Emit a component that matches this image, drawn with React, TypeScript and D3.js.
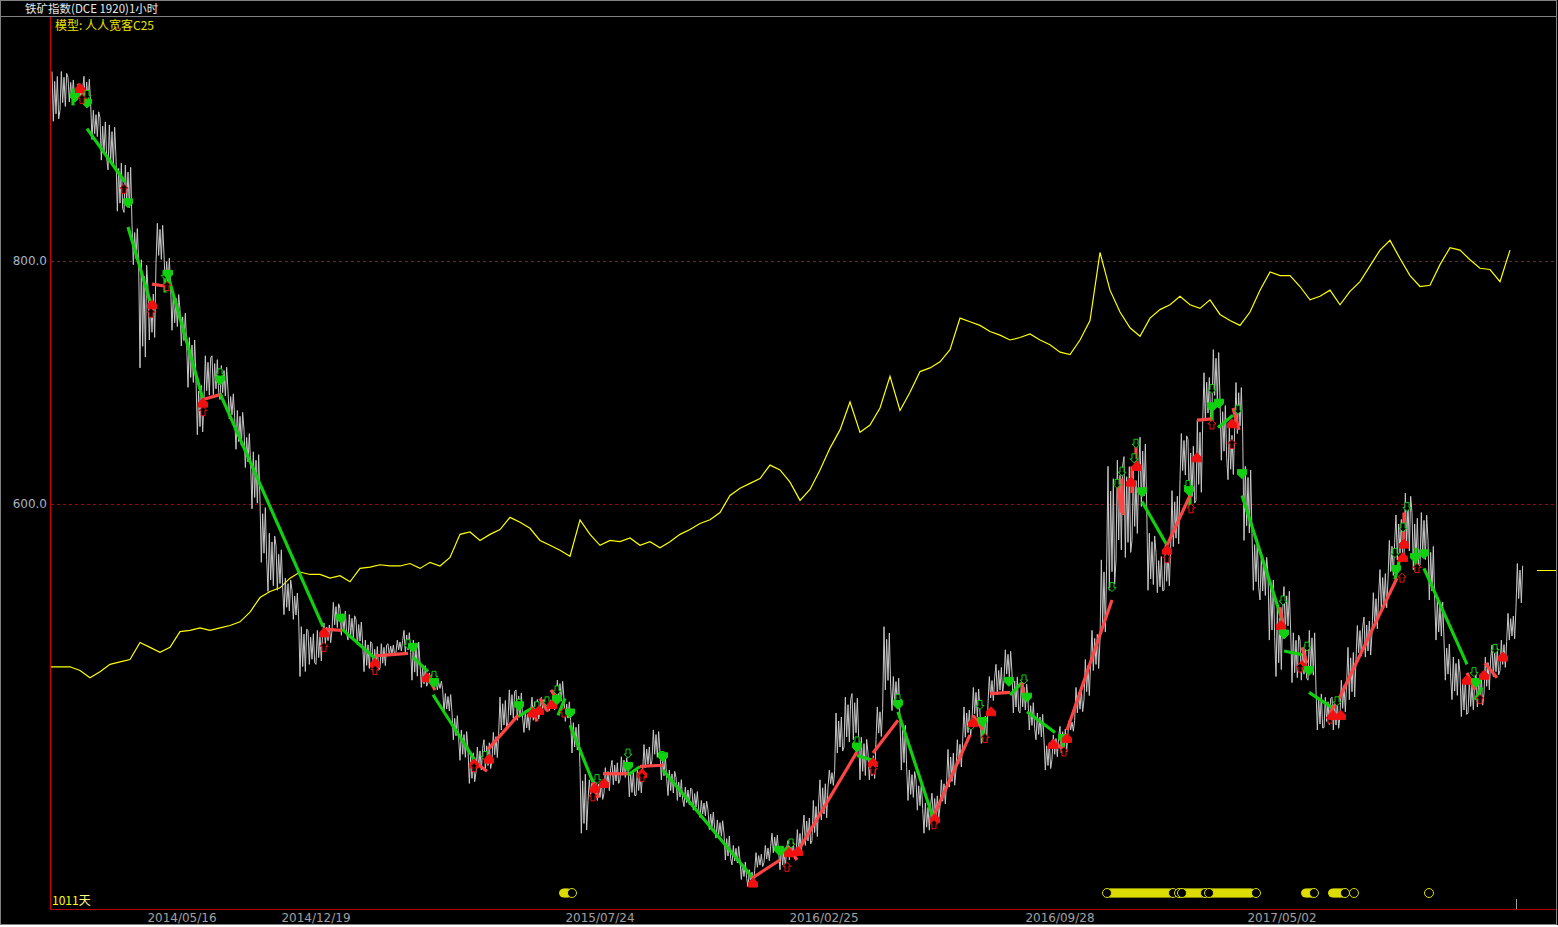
import React from 'react';
import * as d3 from 'd3';

const W = 1558;
const H = 925;

// ---- price series (hourly bars sampled every 8 bars): highs and lows ----
const PRICE_STEP = 8;
const priceHigh = [956,956,951,942,952,924,918,912,885,879,830,801,777,831,805,774,760,737,702,722,
  722,714,693,677,661,643,602,576,566,539,529,499,496,496,502,519,514,509,505,488,
  485,485,485,488,496,488,469,461,455,444,428,414,398,400,406,412,441,447,447,430,
  441,441,441,455,439,420,383,373,373,383,389,392,383,381,402,414,395,381,375,367,
  365,356,348,340,329,319,307,299,313,319,329,318,323,332,344,356,373,381,428,441,
  444,408,395,433,499,458,422,381,373,354,362,373,398,406,433,449,428,458,468,480,
  461,453,439,428,406,410,417,422,449,472,496,554,631,636,639,628,655,576,560,566,
  611,658,653,669,708,727,686,663,700,631,576,558,543,515,532,494,488,496,447,441,
  441,455,482,500,507,527,546,570,591,609,593,593,570,521,488,474,461,455,461,474,
  484,488,510,551];
const priceLow = [915,924,931,932,928,900,883,875,841,840,797,712,735,798,777,743,730,696,657,686,
  690,686,670,645,630,596,552,528,529,509,505,458,468,468,485,496,492,488,484,462,
  462,465,475,478,477,455,449,453,447,428,406,389,370,379,381,389,414,421,422,412,
  422,429,430,436,421,395,329,356,356,362,369,373,359,360,383,389,373,360,356,351,
  348,342,332,325,307,303,291,285,301,305,313,299,307,311,319,323,340,367,395,400,
  406,373,373,406,447,430,381,356,348,329,340,351,367,381,408,422,403,436,443,455,
  428,428,414,406,381,390,395,412,428,439,463,488,529,554,556,570,598,529,527,529,
  565,620,598,603,669,680,636,620,658,570,529,521,488,458,494,453,455,455,414,416,
  414,426,439,472,474,494,513,538,554,556,546,550,521,488,455,439,425,428,433,444,
  458,463,488,515];
const lastClose = 546;

// ---- model equity curve (sampled every 10 bars), drawn on the price axis ----
const EQ_STEP = 10;
const equity = [466,466,466,463,457,462,468,470,472,486,482,478,482,495,496,498,496,498,500,503,
  511,523,528,531,539,544,542,542,539,541,536,547,548,550,549,549,551,547,552,549,
  556,575,577,570,575,579,589,585,580,570,566,562,557,587,575,566,570,569,572,566,
  569,564,569,575,579,584,587,593,607,613,617,621,632,628,618,603,612,628,646,661,
  684,659,665,679,705,677,692,709,712,717,727,753,750,747,742,739,735,737,740,735,
  731,725,723,735,751,807,776,758,745,738,753,760,764,771,764,761,768,756,751,747,
  758,776,791,788,788,779,768,771,776,764,775,783,796,809,817,802,788,779,780,797,
  811,809,801,794,793,783,809];

// ---- axes ----
const yTicks = [600, 800];
const tickBars = [132, 266, 550, 774, 1010, 1232];
const tickLabels = ['2014/05/16', '2014/12/19', '2015/07/24', '2016/02/25', '2016/09/28', '2017/05/02'];
const lastBar = 1466;

// ---- trades: [entryBar, entryPrice, exitBar, exitPrice] ----
const shortTrades = [
  [23,942,23,928],[37,909,75,865],[78,828,100,767],[115,791,115,774],[118,788,153,686],
  [170,691,273,499],[292,497,325,473],[363,474,378,462],[383,443,425,389],[468,425,482,432],
  [508,426,515,440],[520,418,543,371],[578,377,590,384],[613,381,702,293],[730,311,738,318],
  [807,393,823,389],[848,429,883,342],[933,422,933,404],[960,443,972,453],[977,429,1005,412],
  [1013,410,1013,395],[1092,602,1117,566],[1140,614,1140,598],[1162,680,1162,663],[1168,663,1183,673],
  [1192,607,1232,505],[1234,479,1252,476],[1259,445,1283,432],[1345,538,1350,556],[1366,564,1366,544],
  [1374,547,1417,468],[1425,439,1432,449]];
const longTrades = [
  [28,946,35,933],[102,781,118,779],[153,686,170,690],[273,497,292,496],[325,475,358,477],
  [377,459,385,447],[423,389,437,380],[438,398,468,426],[482,433,487,421],[490,440,498,429],
  [501,447,507,439],[543,371,548,358],[553,378,578,378],[590,384,613,385],[702,292,730,307],
  [738,318,747,307],[747,313,807,396],[823,395,848,422],[883,342,920,410],[923,426,933,414],
  [940,444,960,445],[972,453,974,441],[1002,406,1013,398],[1017,414,1062,521],[1068,620,1071,593],
  [1072,621,1073,591],[1082,631,1082,609],[1086,650,1086,631],[1117,566,1140,607],[1147,669,1162,670],
  [1183,679,1189,661],[1230,515,1233,502],[1252,482,1257,469],[1280,428,1291,443],[1291,443,1347,539],
  [1354,593,1354,570],[1417,461,1425,447],[1435,469,1447,457]];

// ---- signal markers: [bar, price, kind] gd=short entry, go=short signal, rf=long entry, ro=long signal ----
const markers = [
  [25,935,'gd'],[37,930,'gd'],[30,942,'rf'],[37,937,'go'],[32,933,'ro'],[74,859,'ro'],[78,848,'gd'],
  [102,764,'rf'],[101,757,'ro'],[115,789,'go'],[118,789,'gd'],[117,779,'ro'],[153,683,'rf'],[153,676,'ro'],
  [170,708,'go'],[170,702,'gd'],[274,494,'rf'],[274,482,'ro'],[291,506,'gd'],[325,469,'rf'],[325,463,'ro'],
  [358,485,'go'],[363,482,'gd'],[377,457,'rf'],[384,459,'go'],[384,453,'gd'],[424,386,'rf'],[424,383,'ro'],
  [435,393,'go'],[439,390,'rf'],[469,436,'go'],[469,434,'gd'],[483,428,'rf'],[487,434,'go'],[489,430,'rf'],
  [497,438,'go'],[502,435,'rf'],[507,447,'go'],[507,439,'gd'],[514,428,'ro'],[520,428,'gd'],[547,374,'go'],
  [545,366,'rf'],[543,359,'ro'],[554,370,'rf'],[578,395,'go'],[578,384,'gd'],[592,378,'rf'],[592,375,'ro'],
  [612,393,'go'],[613,392,'gd'],[703,288,'rf'],[729,315,'gd'],[741,321,'go'],[739,313,'rf'],[748,314,'rf'],
  [737,301,'ro'],[807,405,'go'],[807,400,'gd'],[823,387,'rf'],[823,381,'ro'],[848,440,'go'],[848,435,'gd'],
  [885,341,'rf'],[884,336,'ro'],[921,418,'go'],[923,420,'rf'],[932,421,'gd'],[930,435,'go'],[935,407,'ro'],
  [941,429,'rf'],[959,454,'gd'],[974,456,'go'],[977,441,'gd'],[1003,402,'rf'],[1013,407,'gd'],[1017,407,'rf'],
  [1014,396,'ro'],[1062,532,'go'],[1067,617,'go'],[1072,627,'go'],[1081,618,'rf'],[1084,638,'go'],
  [1086,650,'go'],[1087,631,'rf'],[1092,610,'gd'],[1117,562,'rf'],[1117,555,'ro'],[1138,616,'go'],
  [1139,611,'gd'],[1141,596,'ro'],[1147,638,'rf'],[1162,695,'go'],[1162,680,'gd'],[1162,665,'ro'],
  [1169,683,'gd'],[1182,666,'rf'],[1188,678,'go'],[1182,649,'ro'],[1192,625,'gd'],[1233,521,'go'],
  [1231,500,'rf'],[1234,493,'gd'],[1257,483,'go'],[1252,467,'rf'],[1250,465,'ro'],[1259,463,'gd'],
  [1287,438,'go'],[1291,426,'rf'],[1280,423,'ro'],[1283,426,'rf'],[1345,560,'go'],[1346,546,'gd'],
  [1353,556,'rf'],[1352,539,'ro'],[1354,567,'rf'],[1353,581,'go'],[1357,598,'go'],[1365,556,'gd'],
  [1367,547,'ro'],[1374,559,'gd'],[1424,462,'go'],[1417,455,'rf'],[1426,453,'gd'],[1430,439,'ro'],
  [1434,459,'rf'],[1445,481,'go'],[1453,474,'rf']];

// ---- bottom condition markers ----
const condFilledRanges = [[514,518],[1060,1120],[1133,1153],[1161,1202],[1256,1262],[1283,1293]];
const condHollow = [522,1057,1123,1129,1132,1155,1159,1206,1264,1295,1304,1379];

const x = d3.scaleLinear().domain([0, lastBar]).range([50, 1516]);
const y = d3.scaleLinear().domain([600, 800]).range([504, 261]);

const GREEN = '#10d010';
const RED_LINE = '#ff4444';
const RED_MARK = '#f01010';
const YEL = '#ffff00';

function arrowPath(kind: string) {
  if (kind === 'rf') return 'M0,-5L4.5,-0.5L4.5,4L-4.5,4L-4.5,-0.5Z';
  if (kind === 'gd') return 'M0,5L4.5,0.5L4.5,-4L-4.5,-4L-4.5,0.5Z';
  if (kind === 'ro') return 'M0,-5L4,-1L2,-1L2,4L-2,4L-2,-1L-4,-1Z';
  return 'M0,5L4,1L2,1L2,-4L-2,-4L-2,1L-4,1Z';
}

export default function App() {
  // price drawn as a dense high/low zigzag inside each sampled range
  const pts: [number, number][] = [];
  const fr = [1, 0, 0.8, 0.15, 0.9, 0.05];
  priceHigh.forEach((h, i) => {
    const b = 2 + i * PRICE_STEP;
    const l = priceLow[i];
    fr.forEach((f, k) => {
      const ff = i % 2 === 0 ? f : 1 - f;
      pts.push([x(b + k * (PRICE_STEP / fr.length)), y(l + (h - l) * ff)]);
    });
  });
  const priceLine = d3.line()(pts) || '';
  const eqLine = d3.line<number>().x((_, i) => x(i * EQ_STEP)).y((d) => y(d)).curve(d3.curveLinear)(equity) || '';

  const condCircles: { b: number; filled: boolean }[] = [];
  condFilledRanges.forEach(([a, b]) => {
    for (let k = a; k <= b; k += 2) condCircles.push({ b: k, filled: true });
  });
  const condY = 893;

  return (
    <div style={{ position: 'absolute', left: 0, top: 0, width: W, height: H }}>
      <svg width={W} height={H} style={{ display: 'block', background: '#000' }}>
        <rect x={0.5} y={0.5} width={W - 2} height={H - 1} fill="#000" stroke="#808080" />
        <line x1={1} x2={W - 1} y1={16.5} y2={16.5} stroke="#808080" />
        <text x={25} y={13} fill="#e8e8e8" fontSize={11.5} fontFamily="'Noto Sans CJK SC', sans-serif">铁矿指数(DCE 1920)1小时</text>
        <text x={55} y={30} fill="#e6e600" fontSize={12} fontFamily="'Noto Sans CJK SC', sans-serif">模型: 人人宽客C25</text>

        {/* grid lines */}
        {yTicks.map((t) => (
          <g key={t}>
            <line x1={51} x2={1556} y1={Math.round(y(t)) + 0.5} y2={Math.round(y(t)) + 0.5}
              stroke={t === 600 ? '#b00000' : '#603030'} strokeDasharray="3,3" />
            <text x={47} y={y(t) + 4} textAnchor="end" fill="#a8b4c0" fontSize={12}
              fontFamily="'DejaVu Sans', sans-serif">{t.toFixed(1)}</text>
          </g>
        ))}

        {/* equity curve */}
        <path d={eqLine} fill="none" stroke={YEL} strokeWidth={1.2} />

        {/* price */}
        <path d={priceLine} fill="none" stroke="#c8c8c8" strokeWidth={1} />

        {/* trades */}
        {shortTrades.map((t, i) => (
          <line key={'s' + i} x1={x(t[0])} y1={y(t[1])} x2={x(t[2])} y2={y(t[3])} stroke={GREEN} strokeWidth={3.2} />
        ))}
        {longTrades.map((t, i) => (
          <line key={'l' + i} x1={x(t[0])} y1={y(t[1])} x2={x(t[2])} y2={y(t[3])} stroke={RED_LINE} strokeWidth={3.2} />
        ))}

        {/* markers */}
        {markers.map((m, i) => {
          const kind = m[2] as string;
          const filled = kind === 'rf' || kind === 'gd';
          const col = kind[0] === 'r' ? RED_MARK : GREEN;
          return (
            <path key={'m' + i} transform={`translate(${x(m[0] as number)},${y(m[1] as number)})`}
              d={arrowPath(kind)} fill={filled ? col : '#000'} stroke={col} strokeWidth={1} />
          );
        })}

        {/* condition markers */}
        {condCircles.map((c, i) => (
          <ellipse key={'c' + i} cx={x(c.b)} cy={condY} rx={5} ry={4.5} fill="#dcdc00" />
        ))}
        {condHollow.map((b, i) => (
          <ellipse key={'h' + i} cx={x(b)} cy={condY} rx={4.5} ry={4.5} fill="#000" stroke="#dcdc00" strokeWidth={1} />
        ))}

        <text x={52} y={905} fill={YEL} fontSize={12} fontFamily="'Noto Sans CJK SC', sans-serif">1011<tspan fill="#ffff80">天</tspan></text>

        {/* axes */}
        <line x1={50.5} x2={50.5} y1={17} y2={909} stroke="#d00000" />
        <line x1={50} x2={1556} y1={909.5} y2={909.5} stroke="#b00000" />
        <line x1={x(lastBar) + 0.5} x2={x(lastBar) + 0.5} y1={899} y2={909} stroke="#a0a0a0" />
        <line x1={1537} x2={1556} y1={Math.round(y(lastClose)) + 0.5} y2={Math.round(y(lastClose)) + 0.5} stroke={YEL} />
        {tickBars.map((b, i) => (
          <text key={b} x={x(b)} y={922} textAnchor="middle" fill="#a0a0a0" fontSize={12}
            fontFamily="'DejaVu Sans', sans-serif">{tickLabels[i]}</text>
        ))}
      </svg>
    </div>
  );
}
